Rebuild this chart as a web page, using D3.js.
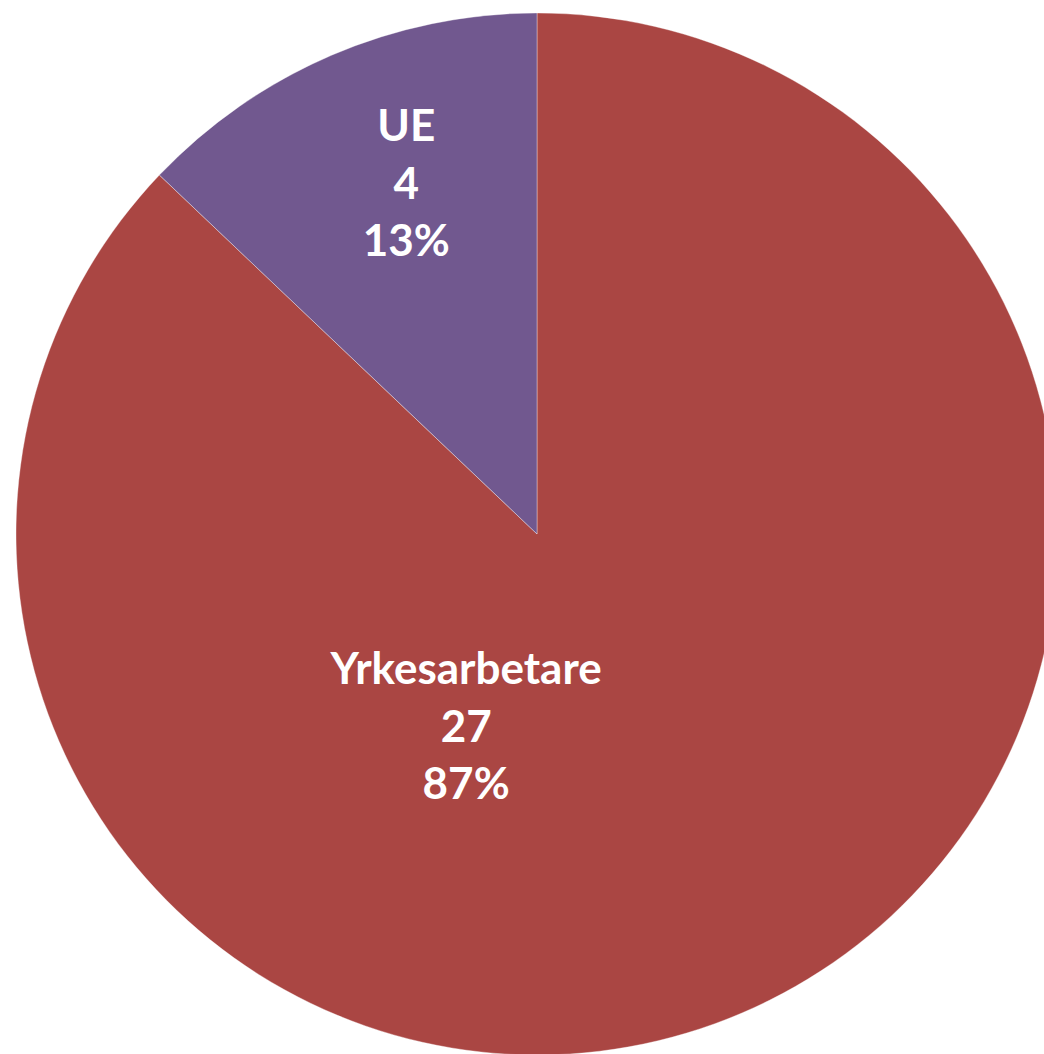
<!DOCTYPE html>
<html>
<head>
<meta charset="utf-8">
<script src="https://cdn.jsdelivr.net/npm/d3@7"></script>
<style>
  html, body { margin: 0; padding: 0; background: #fff; }
  svg { display: block; }
</style>
</head>
<body>
<div id="chart"></div>
<script>
const categories = ["Yrkesarbetare", "UE"];
const values = [27, 4];
const percentLabels = ["87%", "13%"];

const colors = ["#AA4643", "#71588F"];

const width = 1044, height = 1054;
const cx = 537, cy = 534, radius = 521;

// label placement (Excel best fit): baseline of the middle line, in units of radius from the center
const labelOffsets = [[-0.136, 0.399], [-0.251, -0.643]];
const lineHeight = 57.5;

const svg = d3.select("#chart").append("svg")
  .attr("width", width)
  .attr("height", height);

const g = svg.append("g")
  .attr("transform", "translate(" + cx + "," + cy + ")");

const pie = d3.pie().sort(null).value(d => d.value);
const arcs = pie(categories.map((c, i) => ({ key: c, value: values[i], pct: percentLabels[i] })));

const arc = d3.arc().innerRadius(0).outerRadius(radius);

g.selectAll("path")
  .data(arcs)
  .enter().append("path")
  .attr("d", arc)
  .attr("fill", (d, i) => colors[i])
  .attr("stroke", "rgba(255,255,255,0.35)")
  .attr("stroke-width", 1);

const labels = g.selectAll("text")
  .data(arcs)
  .enter().append("text")
  .attr("text-anchor", "middle")
  .attr("fill", "#fff")
  .style("font-family", "Lato, 'Open Sans', sans-serif")
  .style("font-weight", "bold")
  .style("font-size", "44px")
  .attr("transform", (d, i) => "translate(" + labelOffsets[i][0] * radius + "," + labelOffsets[i][1] * radius + ")");

labels.each(function(d) {
  const t = d3.select(this);
  [d.data.key, String(d.data.value), d.data.pct].forEach((s, j) => {
    t.append("tspan")
      .attr("x", 0)
      .attr("y", (j - 1) * lineHeight)
      .text(s);
  });
});
</script>
</body>
</html>
